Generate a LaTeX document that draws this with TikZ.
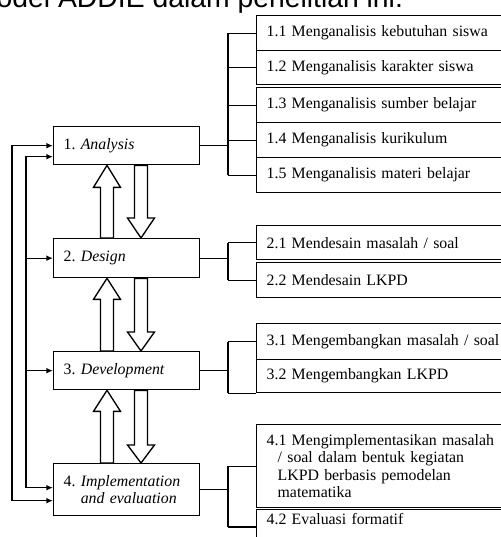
\documentclass[tikz,border=0pt]{standalone}
\usepackage{fontspec}
\setmainfont{Liberation Serif}
\newfontfamily\headfont{Liberation Sans}
\usetikzlibrary{arrows.meta, calc}

% outlined block arrow: base, tip, signed head length
\newcommand{\blockarr}[3]{%
  \draw[fat] ($(#1)+(-6.5,0)$) -- ($(#2)+(-6.5,#3)$) -- ($(#2)+(-13.5,#3)$) -- (#2)
    -- ($(#2)+(13.5,#3)$) -- ($(#2)+(6.5,#3)$) -- ($(#1)+(6.5,0)$) -- cycle;}

\begin{document}
\begin{tikzpicture}[
        x=0.6pt, y=-0.6pt,
        line width=0.8pt,
        block/.style={rectangle, draw, anchor=north west, minimum width=87.6pt, text width=75.6pt, inner xsep=6pt, inner ysep=2pt, align=left, font=\fontsize{9.5}{10.5}\selectfont\frenchspacing},
        sub/.style={block, minimum width=158.4pt, text width=146.4pt},
        arr/.style={-{Latex[length=4pt, width=3.4pt]}},
        arrs/.style={{Latex[length=4pt, width=3.4pt]}-{Latex[length=4pt, width=3.4pt]}},
        fat/.style={line width=0.8pt, fill=white},
    ]
        \useasboundingbox (0,0) rectangle (501,537);
        \clip (0,0) rectangle (501,537);

        % Cut-off caption line
        \node[anchor=base west, inner sep=0pt, font=\headfont\fontsize{17}{20}\selectfont] (title) at (-4,8) {odel ADDIE dalam penelitian ini.};

        % Main stages
        \node[block, minimum height=22.8pt] (analysis) at (53,126) {1. \textit{Analysis}};
        \node[block, minimum height=23.4pt] (design) at (53,238) {2. \textit{Design}};
        \node[block, minimum height=22.8pt] (develop) at (53,351) {3. \textit{Development}};
        \node[block, minimum height=31.2pt] (impl) at (53,463) {4. \textit{Implementation}\\\phantom{4. }\textit{and evaluation}};

        % Sub-steps
        \node[sub, minimum height=21pt] (s11) at (256,15) {1.1 Menganalisis kebutuhan siswa};
        \node[sub, minimum height=20.4pt] (s12) at (256,50) {1.2 Menganalisis karakter siswa};
        \node[sub, minimum height=21pt] (s13) at (256,87) {1.3 Menganalisis sumber belajar};
        \node[sub, minimum height=21pt] (s14) at (256,122) {1.4 Menganalisis kurikulum};
        \node[sub, minimum height=21pt] (s15) at (256,157) {1.5 Menganalisis materi belajar};
        \node[sub, minimum height=20.4pt] (s21) at (256,225) {2.1 Mendesain masalah / soal};
        \node[sub, minimum height=21pt] (s22) at (256,262) {2.2 Mendesain LKPD};
        \node[sub, minimum height=21.6pt] (s31) at (256,323) {3.1 Mengembangkan masalah / soal};
        \node[sub, minimum height=19.8pt] (s32) at (256,359) {3.2 Mengembangkan LKPD};
        \node[sub, minimum height=49.8pt] (s41) at (256,424) {4.1 Mengimplementasikan masalah\\\hspace*{6.6pt}/ soal dalam bentuk kegiatan\\\hspace*{6.6pt}LKPD berbasis pemodelan\\\hspace*{6.6pt}matematika};
        \node[sub, text depth=10pt] (s42) at (256,509) {4.2 Evaluasi formatif};

        % Columns
        \coordinate (br) at (228,0);
        \coordinate (fo) at (12,0);
        \coordinate (fi) at (26,0);
        \coordinate (up) at (107,0);
        \coordinate (dn) at (141,0);

        % Brackets to sub-steps
        \draw (analysis.east) -- (analysis.east -| br);
        \draw (s11.west -| br) -- (s15.west -| br);
        \foreach \s in {s11,s12,s13,s14,s15} \draw (\s.west -| br) -- (\s.west);
        \draw (design.east) -- (design.east -| br);
        \draw (s21.west -| br) -- (s22.west -| br);
        \foreach \s in {s21,s22} \draw (\s.west -| br) -- (\s.west);
        \draw (develop.east) -- (develop.east -| br);
        \draw (s31.west -| br) -- (s32.south west -| br);
        \draw (s31.west -| br) -- (s31.west);
        \draw (s32.south west -| br) -- (s32.south west);
        \draw (impl.east) -- (impl.east -| br);
        \draw (s41.west -| br) -- (s42.west -| br);
        \foreach \s in {s41,s42} \draw (\s.west -| br) -- (\s.west);

        % Block arrows between stages
        \blockarr{design.north -| up}{analysis.south -| up}{22}
        \blockarr{analysis.south -| dn}{design.north -| dn}{-20}
        \blockarr{develop.north -| up}{design.south -| up}{21}
        \blockarr{design.south -| dn}{develop.north -| dn}{-19}
        \blockarr{impl.north -| up}{develop.south -| up}{21}
        \blockarr{develop.south -| dn}{impl.north -| dn}{-18}

        % Feedback lines
        \coordinate (a1) at (analysis.west);
        \coordinate (a2) at ([yshift=-6.6pt]analysis.west);
        \coordinate (i1) at ([yshift=1.2pt]impl.west);
        \coordinate (i2) at ([yshift=-6.6pt]impl.west);
        \draw[arrs] (a1) -- (a1 -| fo) -- (i2 -| fo) -- (i2);
        \draw[arrs] (a2) -- (a2 -| fi) -- (i1 -| fi) -- (i1);
        \draw[arr] (design.west -| fi) -- (design.west);
        \draw[arr] (develop.west -| fi) -- (develop.west);
    \end{tikzpicture}
\end{document}
